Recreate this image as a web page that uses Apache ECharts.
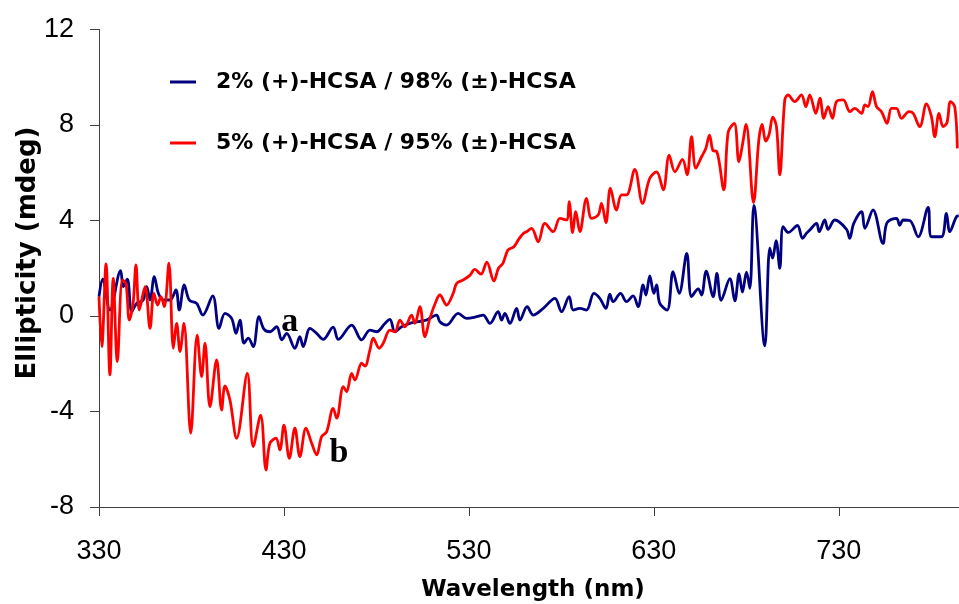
<!DOCTYPE html>
<html>
<head>
<meta charset="utf-8">
<script src="https://cdn.jsdelivr.net/npm/echarts@6/dist/echarts.min.js"></script>
<style>
  html, body { margin: 0; padding: 0; background: #fff; }
  #chart { width: 959px; height: 604px; }
</style>
</head>
<body>
<div id="chart"></div>
<script>
// CD spectra of the two HCSA-doped films (ellipticity vs wavelength)
const seriesNames = ['2% (+)-HCSA / 98% (\u00b1)-HCSA', '5% (+)-HCSA / 95% (\u00b1)-HCSA'];

const wavelengthA = [330,332.0,335.9,341.7,343.1,345.3,347.7,350.4,353.9,355.8,
  357.6,359.9,362.1,364.8,368.4,371.6,373.4,376.1,378.8,382.8,
  386.1,391.5,394.9,398.1,401.7,404.1,406.2,408.4,410.7,413.4,
  416.5,419.2,422.4,426.1,428.8,431.5,435.9,438.6,440.4,444.1,
  447.7,451.2,456.6,459.4,466.6,472.0,476.5,480.1,484.6,487.3,
  490.0,493.6,498.1,502.6,507.1,512.5,514.3,517.9,524.2,528.8,
  534.2,537.7,541.4,545.8,547.7,549.5,552.2,555.8,557.6,561.5,
  564.8,570.2,576.5,580.1,584.2,586.4,590.0,593.6,597.6,600.8,
  604.1,606.2,608.0,612.0,615.2,618.8,621.5,624.2,625.7,627.8,
  630.0,631.5,633.2,637.2,640.4,643.7,647.8,650.4,654.0,655.8,
  658.3,662.1,664.1,666.4,671.1,673.8,676.1,677.9,680.1,681.9,
  684.1,690.0,692.7,694.2,696.1,698.1,699.9,702.7,707.6,710.4,
  712.5,714.3,718.0,719.4,722.4,724.2,727.8,734.2,735.9,738.1,
  742.3,744.1,748.5,753.9,756.1,761.2,763.0,764.8,768.4,772.9,
  778.3,780.1,785.5,788.2,790.0,793.6,794.9];
const ellipticityA = [0.81,1.54,0.25,1.9,1.23,1.54,0.18,0.53,0.67,1.23,
  0.67,1.65,0.95,0.67,0.67,1.09,0.25,1.3,0.67,0.53,
  0.04,0.84,-0.52,0.11,-0.1,-0.73,-0.17,-1.14,-0.93,-1.28,
  -0.03,-0.55,-0.66,-0.45,-1.0,-0.73,-1.35,-0.87,-1.28,-0.52,
  -0.73,-0.98,-0.47,-0.98,-0.38,-1.0,-0.59,-0.66,-0.31,-0.14,
  -0.66,-0.45,-0.31,-0.24,-0.17,0.04,-0.24,-0.38,0.11,-0.1,
  -0.03,0.04,-0.31,0.18,-0.17,0.11,-0.31,0.32,-0.17,0.39,
  0.04,0.32,0.74,0.18,0.81,0.25,0.32,0.25,0.95,0.74,
  0.32,0.92,0.6,0.95,0.6,0.84,0.39,1.3,0.88,1.68,
  0.95,1.3,0.53,0.25,1.86,0.95,2.62,0.81,1.14,0.88,
  1.88,0.81,1.78,0.66,1.56,0.63,1.76,1.0,1.84,1.16,
  4.63,-1.25,2.84,2.42,3.16,2.0,3.74,3.5,3.79,3.25,
  3.46,3.6,3.88,3.53,4.02,3.63,4.02,3.63,3.25,3.88,
  4.37,3.67,4.44,3.04,3.91,4.09,3.8,4.02,4.0,3.32,
  4.55,3.32,3.32,4.3,3.53,4.16,4.19];

const wavelengthB = [330,331.5,333.8,335.9,337.7,339.9,342.7,344.6,346.4,348.4,
  350.0,351.8,354.9,357.6,359.7,361.7,363.5,365.3,367.8,370.2,
  372.0,373.8,375.9,379.6,383.1,385.5,387.3,390.0,393.6,396.3,
  398.1,400.8,404.4,410.2,413.4,417.4,420.3,422.4,425.7,427.8,
  430.0,432.9,435.9,438.6,441.9,445.0,447.7,450.4,453.1,456.6,
  458.5,462.1,463.9,466.6,468.4,472.0,473.8,476.5,478.3,481.5,
  483.7,487.3,490.0,492.7,495.4,499.0,500.8,503.5,506.2,508.9,
  512.5,514.3,517.9,521.5,523.4,526.9,530.5,533.2,536.5,539.7,
  543.5,546.0,548.4,551.1,554.3,557.0,559.4,561.2,563.9,567.5,
  571.1,575.6,579.2,582.8,584.2,586.1,587.8,590.0,593.6,596.3,
  599.9,601.7,604.1,606.5,609.8,612.5,615.2,619.7,623.9,627.8,
  631.5,635.1,638.3,641.4,645.5,648.0,650.4,652.7,655.8,658.1,
  660.1,662.1,663.9,667.8,670.2,673.5,676.0,677.8,679.9,683.9,
  686.8,688.6,690.4,692.3,694.3,696.3,698.1,700.8,702.6,706.2,
  709.8,712.2,714.3,717.6,719.8,721.9,724.2,726.6,728.8,732.4,
  736.0,738.6,742.3,744.1,745.8,748.2,750.4,753.1,756.1,758.5,
  761.2,763.9,768.0,770.2,773.8,777.4,780.1,781.9,784.2,786.4,
  788.5,790.4,792.7,794.1];
const ellipticityB = [0.81,-1.28,2.18,-2.47,1.58,-1.91,1.51,1.35,-0.17,0.5,
  2.14,0.25,1.23,-0.52,0.95,0.46,0.81,0.39,2.21,-1.35,
  -0.31,-1.49,-0.31,-4.91,-0.8,-2.54,-1.14,-3.8,-1.84,-3.94,
  -2.93,-3.52,-5.12,-2.4,-5.47,-4.15,-6.45,-5.33,-5.12,-5.61,
  -4.57,-5.96,-4.7,-5.89,-4.7,-5.33,-5.82,-5.05,-4.85,-3.87,
  -4.28,-2.96,-3.17,-2.4,-2.68,-1.98,-2.1,-1.42,-0.93,-1.35,
  -1.14,-0.59,-0.66,-0.17,-0.45,0.04,-0.31,0.39,-0.87,-0.1,
  0.67,0.88,0.46,0.95,1.37,1.51,1.7,1.95,1.75,2.26,
  1.47,2.0,2.2,2.76,2.9,3.22,3.46,3.53,3.67,3.11,
  3.88,3.53,4.09,4.02,4.79,3.49,4.37,3.53,4.93,4.09,
  4.23,4.72,3.91,5.35,4.44,5.07,5.07,6.14,4.72,5.77,
  6.04,5.28,6.74,6.04,6.56,5.91,7.51,6.19,6.67,7.02,
  7.58,6.92,6.9,5.28,7.7,8.07,6.46,7.12,8.03,4.75,
  7.4,8.03,7.33,7.6,8.33,7.93,5.91,9.05,9.26,8.98,
  9.26,8.77,9.26,8.49,9.12,8.28,8.77,8.28,8.98,9.05,
  8.56,8.7,8.49,8.84,8.77,9.4,8.77,8.56,8.07,8.7,
  8.7,8.28,8.56,8.49,7.93,8.88,8.35,7.51,8.49,7.93,
  8.1,8.98,8.77,7.02];

// Curve annotations: [label, wavelength, ellipticity]
const curveTags = [['a', 433.2, -0.25], ['b', 459.7, -5.74]];

const xTicks = { min: 330, max: 795, step: 100 };
const yTicks = { min: -8, max: 12, step: 4 };

function pairs(xs, ys) {
  const out = [];
  for (let i = 0; i < Math.min(xs.length, ys.length); i++) out.push([xs[i], ys[i]]);
  return out;
}

const chart = echarts.init(document.getElementById('chart'), null, { renderer: 'canvas' });
const axisColor = '#404040';
const tagStyle = {
  show: true, position: 'inside', color: '#000',
  fontFamily: '"Liberation Serif", "Times New Roman", serif',
  fontWeight: 'bold', fontSize: 34
};

chart.setOption({
  animation: false,
  backgroundColor: '#fff',
  grid: { left: 99, top: 29.5, right: 0, bottom: 97, containLabel: false },
  legend: {
    orient: 'vertical', left: 170, top: 70, padding: 0,
    itemWidth: 26, itemHeight: 3, itemGap: 37,
    icon: 'rect',
    textStyle: {
      fontFamily: '"DejaVu Sans", sans-serif', fontWeight: 'bold',
      fontSize: 22, color: '#000', lineHeight: 24, padding: [0, 0, 0, 15]
    },
    data: seriesNames
  },
  xAxis: {
    type: 'value', min: xTicks.min, max: xTicks.max, interval: xTicks.step,
    axisLine: { show: true, onZero: false, lineStyle: { color: axisColor, width: 1 } },
    axisTick: { show: true, inside: false, length: 9, lineStyle: { color: axisColor } },
    axisLabel: {
      margin: 31, color: '#000', fontSize: 27,
      fontFamily: '"Liberation Sans", Arial, sans-serif',
      showMaxLabel: false
    },
    splitLine: { show: false }
  },
  yAxis: {
    type: 'value', min: yTicks.min, max: yTicks.max, interval: yTicks.step,
    axisLine: { show: true, onZero: false, lineStyle: { color: axisColor, width: 1 } },
    axisTick: { show: true, inside: false, length: 9, lineStyle: { color: axisColor } },
    axisLabel: {
      margin: 25, color: '#000', fontSize: 27,
      fontFamily: '"Liberation Sans", Arial, sans-serif'
    },
    splitLine: { show: false }
  },
  graphic: [
    {
      type: 'text', x: 28, y: 253, rotation: Math.PI / 2,
      style: {
        text: 'Ellipticity (mdeg)', fill: '#000',
        font: 'bold 26px "DejaVu Sans", sans-serif',
        textAlign: 'center', textVerticalAlign: 'middle'
      }
    },
    {
      type: 'text', x: 533, y: 590,
      style: {
        text: 'Wavelength (nm)', fill: '#000',
        font: 'bold 23px "DejaVu Sans", sans-serif',
        textAlign: 'center', textVerticalAlign: 'middle'
      }
    }
  ],
  series: [
    {
      name: seriesNames[0], type: 'line', data: pairs(wavelengthA, ellipticityA),
      smooth: 0.35, showSymbol: false, symbol: 'none', clip: true,
      lineStyle: { color: '#000080', width: 2.8 }, itemStyle: { color: '#000080' },
      markPoint: {
        symbol: 'circle', symbolSize: 0, label: Object.assign({ formatter: curveTags[0][0] }, tagStyle),
        data: [{ coord: [curveTags[0][1], curveTags[0][2]] }]
      }
    },
    {
      name: seriesNames[1], type: 'line', data: pairs(wavelengthB, ellipticityB),
      smooth: 0.35, showSymbol: false, symbol: 'none', clip: true,
      lineStyle: { color: '#ff0000', width: 2.8 }, itemStyle: { color: '#ff0000' },
      markPoint: {
        symbol: 'circle', symbolSize: 0, label: Object.assign({ formatter: curveTags[1][0] }, tagStyle),
        data: [{ coord: [curveTags[1][1], curveTags[1][2]] }]
      }
    }
  ]
});
</script>
</body>
</html>
